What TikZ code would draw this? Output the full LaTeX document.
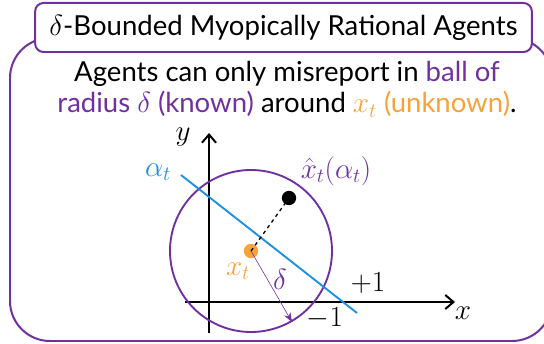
\documentclass[tikz,border=0pt]{standalone}
\usepackage{amsmath,amssymb}
\usepackage{fontspec}
\setmainfont{Lato}
\usetikzlibrary{arrows.meta,positioning}
\definecolor{ballPurple}{HTML}{7030A0}
\definecolor{ptOrange}{HTML}{F5A33A}
\definecolor{lineBlue}{HTML}{1A8FE3}

\begin{document}
\begin{tikzpicture}[x=0.03cm,y=-0.03cm,
    font=\fontsize{23.5}{27}\selectfont,
    frame/.style={draw=ballPurple,line width=1.7pt},
    axis/.style={line width=1.7pt,-{Straight Barb[length=7pt,width=12pt]}},
    dot/.style={circle,inner sep=0pt,minimum size=0.43cm},
    lab/.style={inner sep=0pt,font=\fontsize{26}{30}\selectfont}]
  \useasboundingbox (0,0) rectangle (544,343);
  % outer frame and title
  \draw[frame,rounded corners=1.2cm] (10,38) rectangle (552,341);
  \node[frame,fill=white,rectangle,rounded corners=0.25cm,
        minimum width=14.9cm,minimum height=1.47cm] (title) at (283.5,27.5)
        {$\delta$-Bounded Myopically Rational Agents};
  \node[align=center,inner sep=0pt] (claim) at (287,89)
        {Agents can only misreport in \textcolor{ballPurple}{ball of}\\
         \textcolor{ballPurple}{radius $\delta$ (known)} around \textcolor{ptOrange}{$x_t$ (unknown)}.};

  % axes
  \coordinate (ybot) at (209,333);
  \coordinate (ytop) at (209,133);
  \coordinate (xleft) at (185,302);
  \coordinate (xright) at (455,302);
  \draw[axis] (ybot) -- (ytop);
  \draw[axis] (xleft) -- (xright);
  \node[lab] (ylab) at (183,137) {$y$};
  \node[lab] (xlab) at (463,313) {$x$};

  % ball around the true point
  \node[draw=ballPurple,line width=1.6pt,circle,minimum size=4.86cm] (ball) at (251,251) {};
  \coordinate (astart) at (181,175);
  \coordinate (aend) at (357,313);
  \draw[lineBlue,line width=1.6pt] (astart) -- (aend);
  \node[dot,fill=ptOrange] (xt) at (251,251) {};
  \node[dot,fill=black] (xhat) at (289,198) {};
  \draw[dashed,line width=1.1pt] (xt.center) -- (xhat.center);
  \draw[ballPurple,line width=0.5pt,-{Stealth[length=8pt]}] (xt.center) -- (ball.-60);

  % labels
  \node[lab,lineBlue] (alab) at (158,172) {$\alpha_t$};
  \node[lab,ballPurple] (hatlab) at (336,171) {$\hat{x}_t(\alpha_t)$};
  \node[lab,ptOrange] (xtlab) at (238,271) {$x_t$};
  \node[lab,ballPurple] (dlab) at (280,279) {$\delta$};
  \node[lab] (plus) at (368,283) {$+1$};
  \node[lab] (minus) at (325,318) {$-1$};
\end{tikzpicture}
\end{document}
